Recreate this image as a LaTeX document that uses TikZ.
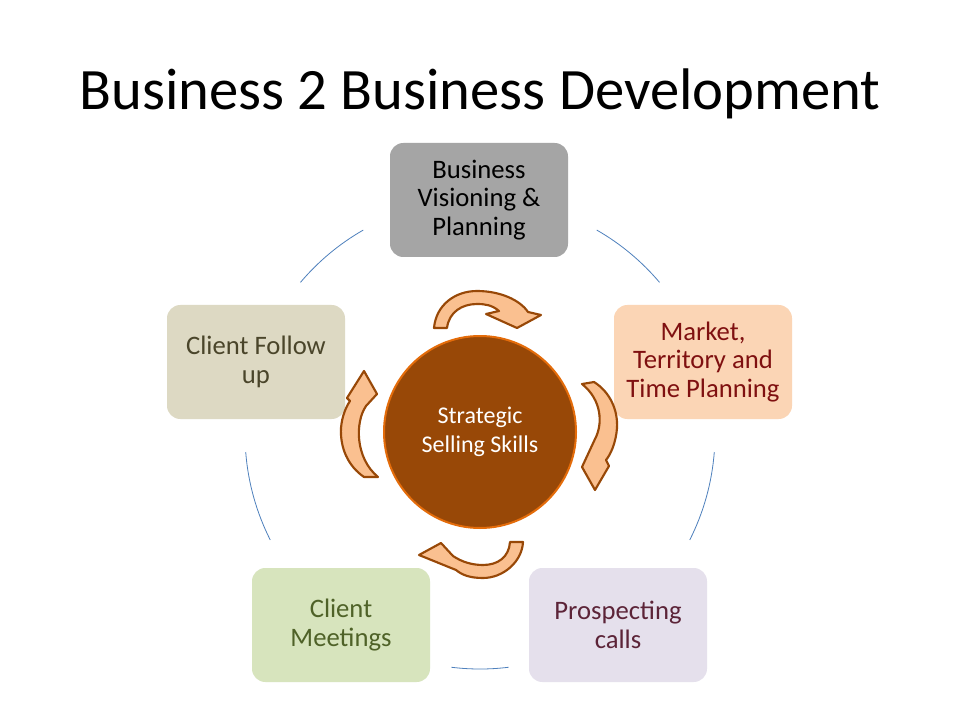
\documentclass[tikz,border=0pt]{standalone}
\usepackage{fontspec}
\setmainfont{Carlito}
\definecolor{boxTop}{HTML}{A5A5A5}
\definecolor{boxRight}{HTML}{FBD5B5}
\definecolor{boxBR}{HTML}{E5E0EC}
\definecolor{boxBL}{HTML}{D7E4BD}
\definecolor{boxLeft}{HTML}{DDD9C3}
\definecolor{txtRight}{HTML}{7F1010}
\definecolor{txtBR}{HTML}{5C2438}
\definecolor{txtBL}{HTML}{4F6228}
\definecolor{txtLeft}{HTML}{4A452A}
\definecolor{coreFill}{HTML}{984807}
\definecolor{coreEdge}{HTML}{E46C0A}
\definecolor{arrowFill}{HTML}{FAC090}
\definecolor{arrowEdge}{HTML}{984807}
\definecolor{ringBlue}{HTML}{4F81BD}
\tikzset{
  stagebox/.style={rounded corners=10pt, minimum width=133.5pt, minimum height=85.5pt,
    align=center, inner sep=2pt, font=\fontsize{20}{21.6}\selectfont},
  ringarc/.style={draw=ringBlue, line width=0.6pt},
  turnarrow/.style={fill=arrowFill, draw=arrowEdge, line width=1.6pt, line join=round},
}
\begin{document}
\begin{tikzpicture}[x=0.75pt,y=-0.75pt]
\fill[white] (0,0) rectangle (960,720);
\useasboundingbox (0,0) rectangle (960,720);
\coordinate (ringc) at (480,434);

\node[font=\fontsize{44}{52}\selectfont, anchor=base, inner sep=0pt] (title) at (480,110) {Business 2 Business Development};

% ring arcs
\draw[ringarc] (ringc) ++(-40.2:235) arc[start angle=-40.2, end angle=-60.2, radius=235];
\draw[ringarc] (ringc) ++(-119.8:235) arc[start angle=-119.8, end angle=-139.8, radius=235];
\draw[ringarc] (ringc) ++(4.4:235) arc[start angle=4.4, end angle=26.8, radius=235];
\draw[ringarc] (ringc) ++(83:235) arc[start angle=83, end angle=97, radius=235];
\draw[ringarc] (ringc) ++(153.2:235) arc[start angle=153.2, end angle=175.6, radius=235];

% stage boxes
\node[stagebox, fill=boxTop, text=black] (vision) at (479,200) {Business\\Visioning \&\\Planning};
\node[stagebox, fill=boxRight, text=txtRight] (market) at (703,362) {Market,\\Territory and\\Time Planning};
\node[stagebox, fill=boxBR, text=txtBR] (prospect) at (618,625) {Prospecting\\calls};
\node[stagebox, fill=boxBL, text=txtBL] (meeting) at (341,625) {Client\\Meetings};
\node[stagebox, fill=boxLeft, text=txtLeft] (follow) at (256,362) {Client Follow\\up};

% core circle
\node[circle, fill=coreFill, draw=coreEdge, line width=1.5pt, minimum size=144pt,
  text=white, align=center, font=\fontsize{18}{21.75}\selectfont] (core) at (480,432) {Strategic\\Selling Skills};

% circular arrows
\path[turnarrow] (434,328) .. controls (436,305) and (455,291) .. (477,291)
  .. controls (500,291) and (520,300) .. (528,312) -- (541,315) -- (517,328) -- (486,314) -- (499,311)
  .. controls (492,305) and (485,304) .. (477,304) .. controls (462,304) and (449,312) .. (447,328) -- cycle;
\path[turnarrow] (582,384) -- (594,382) .. controls (610,392) and (618,410) .. (617,428)
  .. controls (616,442) and (611,454) .. (606,460) -- (609,466) -- (595,490) -- (582,467) -- (595,439)
  .. controls (603,424) and (602,400) .. (582,384) -- cycle;
\path[turnarrow] (523,542) .. controls (522,562) and (503,578) .. (483,578)
  .. controls (470,578) and (462,575) .. (456,570) -- (419,555) -- (441,543) -- (453,556)
  .. controls (462,562) and (472,565) .. (483,565) .. controls (498,565) and (509,557) .. (510,542) -- cycle;
\path[turnarrow] (378,477) -- (364,477) .. controls (348,466) and (340,448) .. (341,428)
  .. controls (342,416) and (346,407) .. (350,401) -- (347,398) -- (364,371) -- (377,394) -- (366,406)
  .. controls (355,422) and (355,458) .. (378,477) -- cycle;
\end{tikzpicture}
\end{document}
